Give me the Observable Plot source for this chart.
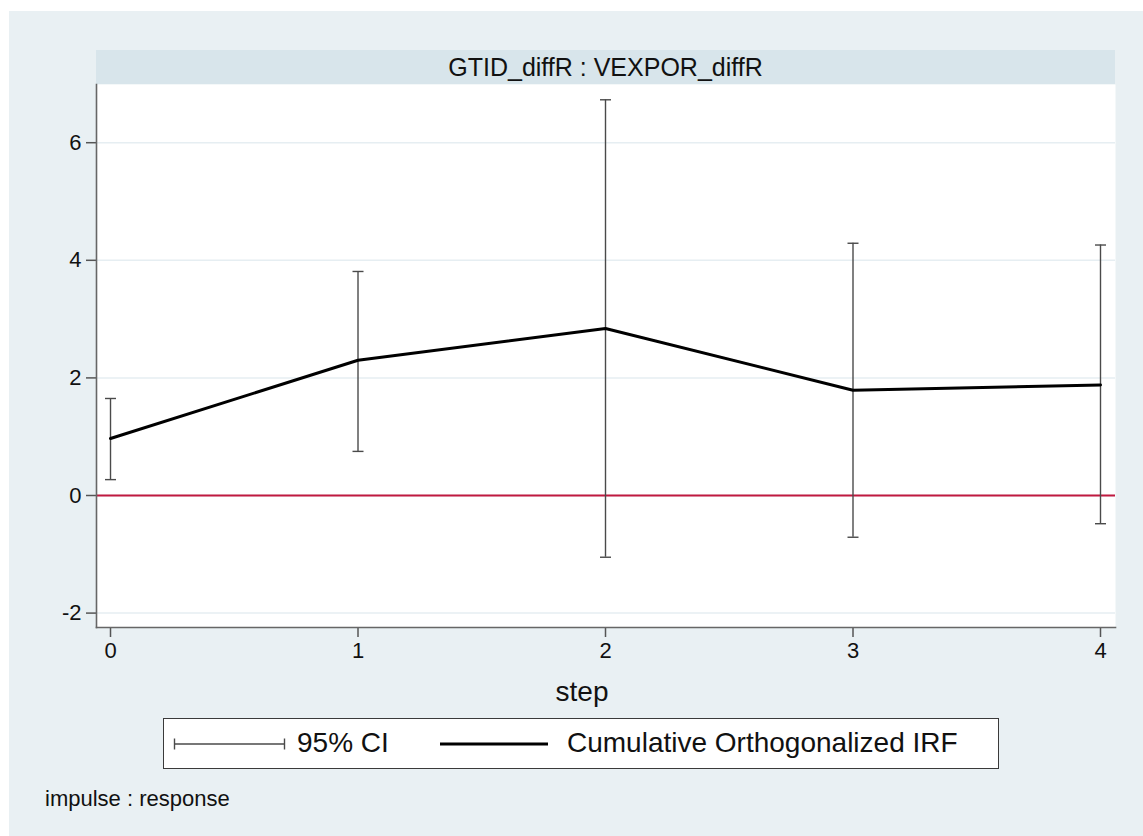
<!DOCTYPE html>
<html>
<head>
<meta charset="utf-8">
<script src="https://cdn.jsdelivr.net/npm/d3@7"></script>
<script src="https://cdn.jsdelivr.net/npm/@observablehq/plot@0.6"></script>
<style>
  html, body { margin: 0; padding: 0; background: #ffffff; }
  body { width: 1143px; height: 836px; position: relative; overflow: hidden;
         font-family: "Liberation Sans", Arial, Helvetica, sans-serif; color: #111; }
  #bg { position: absolute; left: 9px; top: 11px; right: 0; bottom: 0; background: #e9f0f3; }
  #header { position: absolute; left: 96px; top: 50px; width: 1019px; height: 34px; background: #d8e5eb;
            font-size: 25px; line-height: 34px; text-align: center; }
  #chart { position: absolute; left: 0; top: 84px; }
  #chart svg text { font-size: 22px; fill: #111; }
  #xlabel { position: absolute; left: 482px; width: 200px; top: 674px; text-align: center; font-size: 28px; line-height: 36px; }
  #legend { position: absolute; left: 163px; top: 718px; width: 836px; height: 51px; background: #fff;
            border: 1.5px solid #3a3a3a; box-sizing: border-box; }
  #legend .item { position: absolute; top: 0; height: 48px; line-height: 48px; font-size: 28px; white-space: nowrap; }
  #legend svg { position: absolute; top: 0; }
  #note { position: absolute; left: 45px; top: 786px; font-size: 22px; line-height: 26px; }
</style>
</head>
<body>
<div id="bg"></div>
<div id="header"></div>
<div id="chart"></div>
<div id="xlabel"></div>
<div id="legend"></div>
<div id="note"></div>
<script>
// ---- data ----
const steps = [0, 1, 2, 3, 4];
const irf   = [0.97, 2.30, 2.84, 1.79, 1.88];
const ciLo  = [0.27, 0.75, -1.05, -0.71, -0.48];
const ciHi  = [1.65, 3.81, 6.73, 4.29, 4.26];
const yTicks = [-2, 0, 2, 4, 6];
const xTicks = [0, 1, 2, 3, 4];
const panelTitle = "GTID_diffR : VEXPOR_diffR";
const xTitle = "step";
const legendLabels = ["95% CI", "Cumulative Orthogonalized IRF"];
const noteText = "impulse : response";

const data = steps.map((s, i) => ({step: s, irf: irf[i], lo: ciLo[i], hi: ciHi[i]}));

// horizontal cap symbol for error bars
const capSymbol = {
  draw(context, size) {
    const r = Math.sqrt(size / Math.PI);
    context.moveTo(-r, 0);
    context.lineTo(r, 0);
  }
};

const plot = Plot.plot({
  width: 1143,
  height: 600,
  marginLeft: 96,
  marginRight: 28,
  marginTop: 0,
  marginBottom: 57,
  style: {background: "transparent", fontFamily: "'Liberation Sans', Arial, sans-serif", fontSize: "22px", color: "#111", overflow: "visible"},
  x: {domain: [-0.0566, 4.0606]},
  y: {domain: [-2.245, 6.99]},
  marks: [
    Plot.frame({fill: "white", stroke: null}),
    Plot.gridY(yTicks, {stroke: "#e6eef2", strokeOpacity: 1, strokeWidth: 1.5}),
    Plot.ruleY([0], {stroke: "#c0193f", strokeWidth: 1.8}),
    Plot.ruleX(data, {x: "step", y1: "lo", y2: "hi", stroke: "#4a4a4a", strokeWidth: 1.4}),
    Plot.dot(data, {x: "step", y: "lo", symbol: capSymbol, r: 5.5, fill: "none", stroke: "#4a4a4a", strokeWidth: 1.4}),
    Plot.dot(data, {x: "step", y: "hi", symbol: capSymbol, r: 5.5, fill: "none", stroke: "#4a4a4a", strokeWidth: 1.4}),
    Plot.line(data, {x: "step", y: "irf", stroke: "#000", strokeWidth: 3}),
    Plot.axisY({ticks: yTicks, tickSize: 10, tickPadding: 5, label: null, stroke: "#555", strokeWidth: 1.5, fontSize: 22, tickFormat: d => String(d)}),
    Plot.axisX({ticks: xTicks, tickSize: 10, tickPadding: 5, label: null, stroke: "#555", strokeWidth: 1.5, fontSize: 22, tickFormat: d => String(d)}),
    Plot.frame({anchor: "left", stroke: "#666", strokeWidth: 1.6}),
    Plot.frame({anchor: "bottom", stroke: "#666", strokeWidth: 1.6})
  ]
});
document.getElementById("chart").appendChild(plot);

document.getElementById("header").textContent = panelTitle;
document.getElementById("xlabel").textContent = xTitle;
document.getElementById("note").textContent = noteText;

// legend
const leg = document.getElementById("legend");
const ns = "http://www.w3.org/2000/svg";
function sample(x, w, kind) {
  const s = document.createElementNS(ns, "svg");
  s.setAttribute("width", w + 4);
  s.setAttribute("height", 48);
  s.style.left = (x - 2) + "px";
  const mk = (x1, y1, x2, y2, sw, c) => {
    const l = document.createElementNS(ns, "line");
    l.setAttribute("x1", x1); l.setAttribute("y1", y1);
    l.setAttribute("x2", x2); l.setAttribute("y2", y2);
    l.setAttribute("stroke", c); l.setAttribute("stroke-width", sw);
    s.appendChild(l);
  };
  if (kind === "ci") {
    mk(2, 25, w + 2, 25, 1.4, "#4a4a4a");
    mk(2.5, 19.5, 2.5, 30.5, 1.4, "#4a4a4a");
    mk(w + 1.5, 19.5, w + 1.5, 30.5, 1.4, "#4a4a4a");
  } else {
    mk(2, 25, w + 2, 25, 3, "#000");
  }
  leg.appendChild(s);
}
sample(10, 111, "ci");
sample(276, 108, "line");
const t1 = document.createElement("div"); t1.className = "item"; t1.style.left = "133px"; t1.textContent = legendLabels[0]; leg.appendChild(t1);
const t2 = document.createElement("div"); t2.className = "item"; t2.style.left = "403px"; t2.textContent = legendLabels[1]; leg.appendChild(t2);
</script>
</body>
</html>
